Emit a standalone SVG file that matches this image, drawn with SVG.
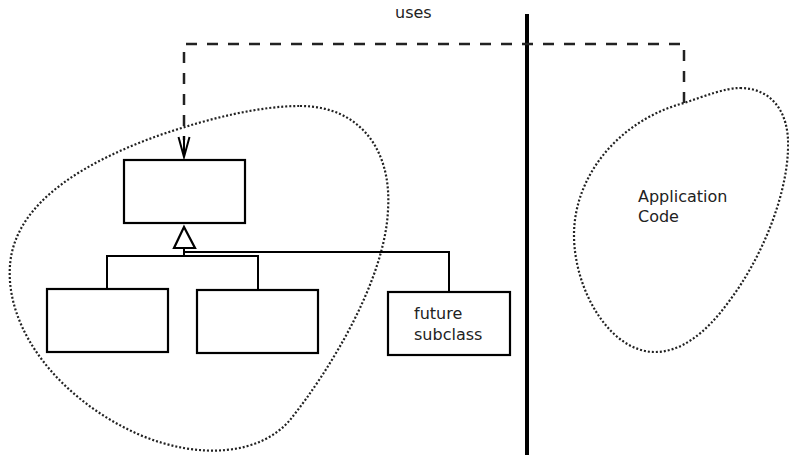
<svg xmlns="http://www.w3.org/2000/svg" width="789" height="458" viewBox="0 0 789 458">
<style>
.box{fill:#fff;stroke:#000;stroke-width:2.2}
.blob{fill:none;stroke:#222;stroke-width:2.2;stroke-dasharray:2 2}
.dash{fill:none;stroke:#222;stroke-width:2.5;stroke-dasharray:11 10}
.ln{fill:none;stroke:#000;stroke-width:2}
.t{font-family:"DejaVu Sans",sans-serif;font-size:16px;fill:#222}
</style>
<rect width="789" height="458" fill="#fff"/>
<g id="blob-left"><path class="blob" d="M 300 106 C 360 106, 392 150, 388 210 C 385 280, 330 370, 290 420 C 260 455, 200 460, 140 435 C 60 400, 5 330, 10 265 C 15 200, 90 160, 160 135 C 210 118, 260 106, 300 106 Z"/></g>
<g id="blob-right"><path class="blob" d="M 740 88 C 770 88, 790 110, 788 150 C 786 200, 760 260, 730 300 C 705 335, 680 352, 655 352 C 610 352, 574 290, 574 235 C 574 175, 620 120, 684 103 C 705 96, 725 88, 740 88 Z"/><text class="t" x="638" y="202">Application</text><text class="t" x="638" y="222">Code</text></g>
<g id="divider"><line x1="527" y1="14" x2="527" y2="455" stroke="#000" stroke-width="4"/></g>
<g id="base"><rect class="box" x="124" y="160" width="121" height="63"/></g>
<g id="sub1"><rect class="box" x="47" y="289" width="121" height="63"/></g>
<g id="sub2"><rect class="box" x="197" y="290" width="121" height="63"/></g>
<g id="future"><rect class="box" x="388" y="292" width="122" height="63"/><text class="t" x="414" y="319">future</text><text class="t" x="414" y="340">subclass</text></g>
<g id="uses-label"><text class="t" x="395" y="18">uses</text></g>
<g id="connectors">
<path class="dash" d="M 684 103 L 684 44 L 184 44 L 184 140"/>
<path class="ln" d="M 184 136 L 184 157 M 178.5 137 L 184 157 L 189.5 137"/>
<path class="ln" d="M 184 248 L 184 257 M 184 252 L 449 252 L 449 292 M 107 256 L 258 256 M 107 255 L 107 289 M 258 255 L 258 290"/>
<polygon points="184,227 174,248 195,248" fill="#fff" stroke="#000" stroke-width="2.2"/>
</g>
</svg>
